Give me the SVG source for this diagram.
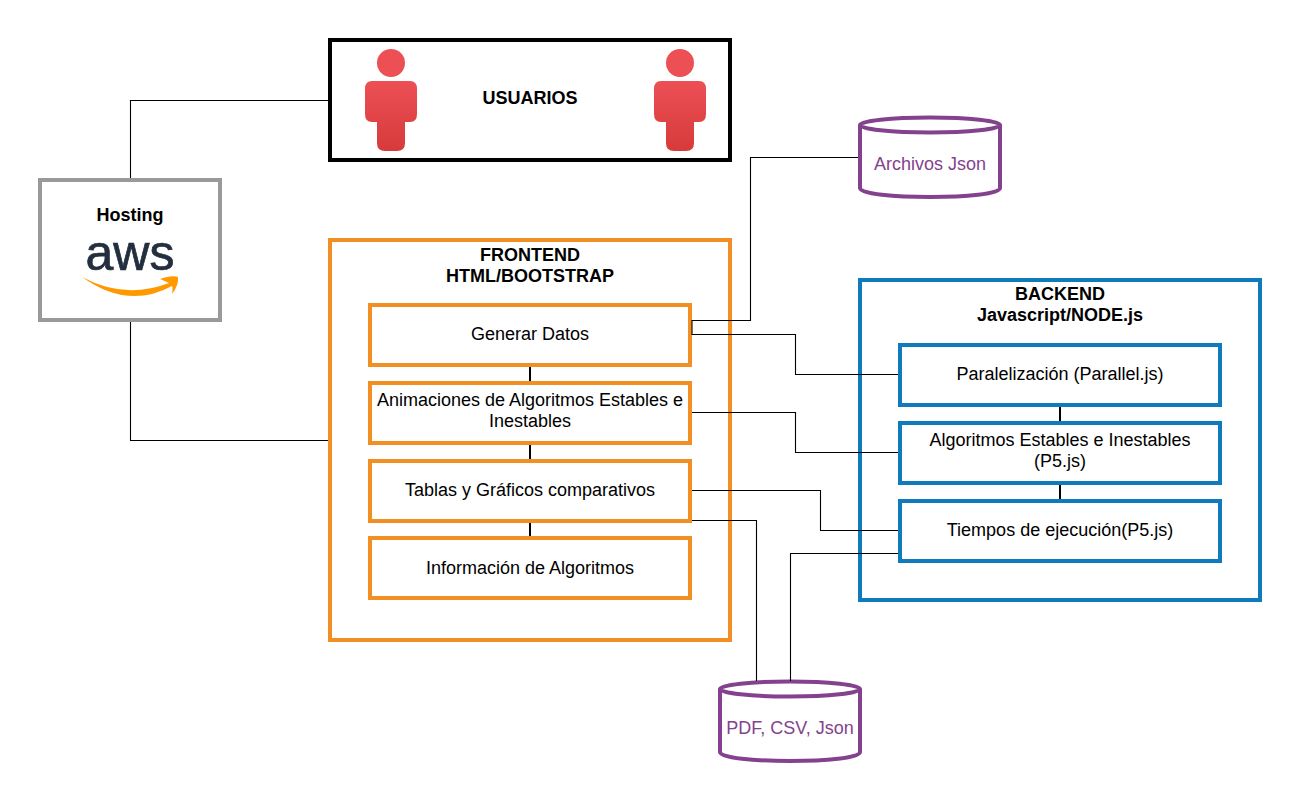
<svg xmlns="http://www.w3.org/2000/svg" width="1300" height="802" viewBox="0 0 1300 802">
<style>
text{font-family:"Liberation Sans",Arial,sans-serif;font-size:18px;text-anchor:middle;fill:#000}
.b{font-weight:bold}
.box{fill:#fff;stroke-width:4}
.or{stroke:#f28f22}
.bl{stroke:#0f7bbd}
.cyl{fill:#fff;stroke:#84418e;stroke-width:4}
.p{fill:#84418e}
.c{fill:none;stroke:#000;stroke-width:1.1}
.t{fill:none;stroke:#000;stroke-width:2}
</style>
<defs>
<linearGradient id="red" x1="0" y1="0" x2="0" y2="1"><stop offset="0" stop-color="#ec5055"/><stop offset="1" stop-color="#d63a3a"/></linearGradient>
<g id="person"><circle cx="26" cy="14" r="14" fill="#ec5055"/><path d="M7 32H45Q52 32 52 40V65Q52 73 45 73H40V94Q40 102 32 102H20Q12 102 12 94V73H7Q0 73 0 65V40Q0 32 7 32Z" fill="url(#red)"/></g>
</defs>
<g id="usuarios"><rect class="box" x="330" y="40" width="400" height="120" stroke="#000"/><use href="#person" x="365" y="49"/><use href="#person" x="654" y="49"/><text class="b" x="530" y="104">USUARIOS</text></g>
<g id="hosting"><rect class="box" x="40" y="180" width="180" height="140" stroke="#999"/><text class="b" x="130" y="221">Hosting</text>
<text x="130" y="270" style="font-size:50px;fill:#232f3e;stroke:#232f3e;stroke-width:.7px">aws</text>
<path d="M82 277Q125 300 169 283L160 279Q172 275 178 277Q179 285 172 294Q173 288 172 286Q128 310 82 277Z" fill="#f90"/></g>
<g id="frontend"><rect class="box or" x="330" y="240" width="400" height="400"/><text class="b" x="530" y="260.500">FRONTEND</text><text class="b" x="530" y="282">HTML/BOOTSTRAP</text></g>
<g id="generar"><rect class="box or" x="370" y="305" width="320" height="60"/><text x="530" y="340">Generar Datos</text></g>
<g id="animaciones"><rect class="box or" x="370" y="383" width="320" height="60"/><text x="530" y="405.500">Animaciones de Algoritmos Estables e</text><text x="530" y="427">Inestables</text></g>
<g id="tablas"><rect class="box or" x="370" y="461" width="320" height="60"/><text x="530" y="495.500">Tablas y Gráficos comparativos</text></g>
<g id="informacion"><rect class="box or" x="370" y="538" width="320" height="60"/><text x="530" y="573.500">Información de Algoritmos</text></g>
<g id="backend"><rect class="box bl" x="860" y="280" width="400" height="320"/><text class="b" x="1060" y="299.500">BACKEND</text><text class="b" x="1060" y="321">Javascript/NODE.js</text></g>
<g id="paralelizacion"><rect class="box bl" x="900" y="345" width="320" height="60"/><text x="1060" y="380">Paralelización (Parallel.js)</text></g>
<g id="algoritmos"><rect class="box bl" x="900" y="423" width="320" height="60"/><text x="1060" y="445.500">Algoritmos Estables e Inestables</text><text x="1060" y="467">(P5.js)</text></g>
<g id="tiempos"><rect class="box bl" x="900" y="501" width="320" height="60"/><text x="1060" y="535.500">Tiempos de ejecución(P5.js)</text></g>
<g id="archivos"><path class="cyl" d="M860 125V188C860 200 1000 200 1000 188V125"/><ellipse class="cyl" cx="930" cy="125" rx="70" ry="7.500"/><text class="p" x="930" y="169.500">Archivos Json</text></g>
<g id="pdf"><path class="cyl" d="M720 689V752C720 764 860 764 860 752V689"/><ellipse class="cyl" cx="790" cy="689" rx="70" ry="7.500"/><text class="p" x="790" y="733.500">PDF, CSV, Json</text></g>
<g id="connectors">
<path class="c" d="M130.500 178V100.500H328"/>
<path class="c" d="M130.500 322V440.500H328"/>
<path class="c" d="M692 320.500H750.500V157.500H858"/>
<path class="c" d="M692 320V334.500H795.500V374.500H898"/>
<path class="c" d="M692 412.500H795.500V452.500H898"/>
<path class="c" d="M692 490.500H820.500V530.500H898"/>
<path class="c" d="M692 520.500H756.500V681"/>
<path class="c" d="M898 553.500H790.500V681"/>
<path class="t" d="M530 367V381M530 445V459M530 523V536M1060 407V421M1060 485V499"/>
</g>
</svg>
